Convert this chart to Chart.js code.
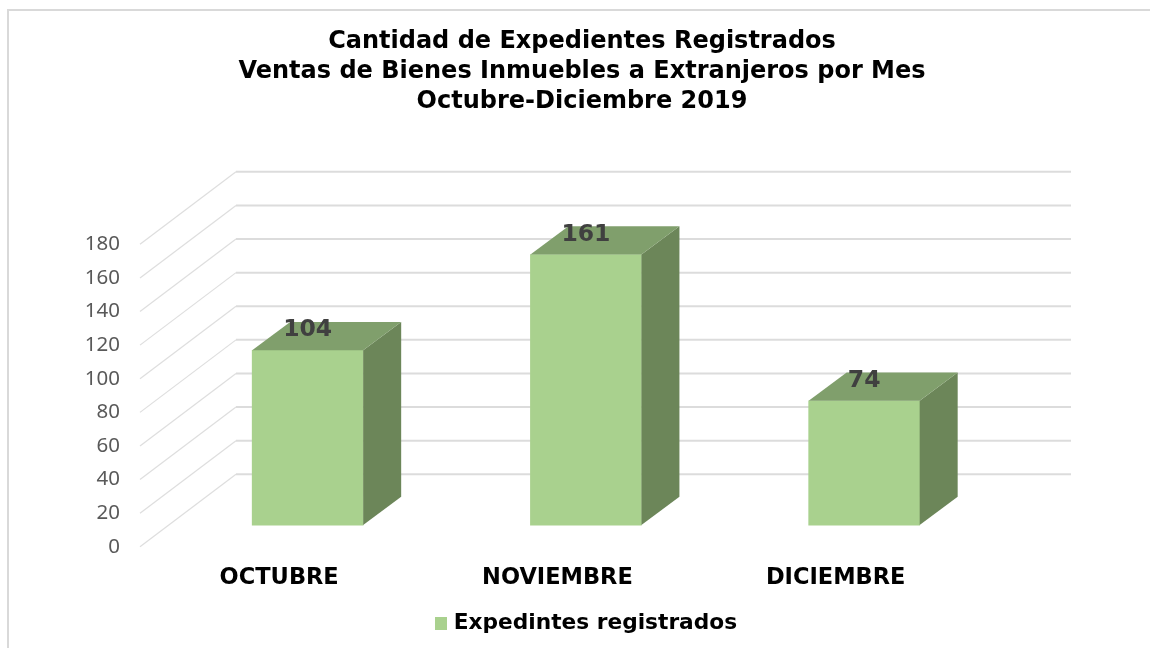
<!DOCTYPE html>
<html lang="es">
<head>
<meta charset="utf-8">
<title>Expedientes</title>
<style>html,body{margin:0;padding:0;background:#fff;overflow:hidden}canvas{display:block}</style>
<script src="https://cdn.jsdelivr.net/npm/chart.js@4/dist/chart.umd.min.js"></script>
</head>
<body>
<canvas id="c" width="1150" height="648"></canvas>
<script>
const titleLines = ["Cantidad de Expedientes Registrados", "Ventas de Bienes Inmuebles a Extranjeros por Mes", "Octubre-Diciembre 2019"];
const categories = ["OCTUBRE", "NOVIEMBRE", "DICIEMBRE"];
const seriesName = "Expedintes registrados";
const expedientes = [104, 161, 74];

const FONT = '"DejaVu Sans", Verdana, sans-serif';
const wall = {dx: 96, dy: 72.5, left: 140, right: 1071};
const depth = {dx: 38, dy: 28.3};

const swatch = document.createElement('canvas');
swatch.width = 12; swatch.height = 13;
const sctx = swatch.getContext('2d');
sctx.fillStyle = '#a9d18e';
sctx.fillRect(0, 0, 12, 13);

const threeD = {
  id: 'threeD',
  beforeDraw(chart) {
    const c = chart.ctx;
    c.save();
    c.fillStyle = '#fff';
    c.fillRect(0, 0, chart.width, chart.height);
    c.strokeStyle = '#d9d9d9';
    c.lineWidth = 2;
    c.beginPath();
    c.moveTo(8, 648); c.lineTo(8, 10); c.lineTo(1150, 10);
    c.stroke();
    c.restore();
  },
  afterLayout(chart) {
    chart.legend.left += 6;
    chart.legend.right += 6;
  },
  beforeDatasetsDraw(chart) {
    const c = chart.ctx, y = chart.scales.y;
    c.save();
    y.ticks.forEach(t => {
      const py = y.getPixelForValue(t.value);
      const bx = wall.left + wall.dx, by = py - wall.dy;
      c.strokeStyle = '#dedede';
      c.lineWidth = 1.2;
      c.beginPath(); c.moveTo(wall.left, py); c.lineTo(bx, by); c.stroke();
      c.strokeStyle = '#dcdcdc';
      c.lineWidth = 2;
      c.beginPath(); c.moveTo(bx, by); c.lineTo(wall.right, by); c.stroke();
    });
    c.restore();
  },
  afterDatasetsDraw(chart) {
    const c = chart.ctx;
    const bars = chart.getDatasetMeta(0).data;
    c.save();
    bars.forEach((b, i) => {
      const l = b.x - b.width / 2, r = b.x + b.width / 2;
      c.fillStyle = '#6c8659';
      c.beginPath();
      c.moveTo(r, b.y); c.lineTo(r + depth.dx, b.y - depth.dy);
      c.lineTo(r + depth.dx, b.base - depth.dy); c.lineTo(r, b.base);
      c.closePath(); c.fill();
      c.fillStyle = '#809f6c';
      c.beginPath();
      c.moveTo(l, b.y); c.lineTo(l + depth.dx, b.y - depth.dy);
      c.lineTo(r + depth.dx, b.y - depth.dy); c.lineTo(r, b.y);
      c.closePath(); c.fill();
      c.fillStyle = '#404040';
      c.font = 'bold 23.5px ' + FONT;
      c.textAlign = 'center';
      c.textBaseline = 'middle';
      c.fillText(String(expedientes[i]), b.x, b.y - 20);
    });
    c.restore();
  }
};

new Chart(document.getElementById('c'), {
  type: 'bar',
  data: {
    labels: categories,
    datasets: [{
      label: seriesName,
      data: expedientes,
      yAxisID: 'yBars',
      backgroundColor: '#a9d18e',
      borderWidth: 0,
      barThickness: 111,
      clip: false
    }]
  },
  plugins: [threeD],
  options: {
    responsive: false,
    animation: false,
    layout: {padding: {left: 14, right: 0, top: 0, bottom: 3.5}},
    plugins: {
      tooltip: {enabled: false},
      title: {
        display: true,
        text: titleLines,
        color: '#000',
        font: {family: FONT, size: 24, weight: 'bold', lineHeight: 1.25},
        padding: {top: 27, bottom: 127.3}
      },
      legend: {
        position: 'bottom',
        labels: {
          color: '#000',
          font: {family: FONT, size: 21.7, weight: 'bold'},
          usePointStyle: true,
          pointStyle: swatch,
          pointStyleWidth: 4,
          boxHeight: 13,
          padding: 9
        }
      }
    },
    scales: {
      x: {
        type: 'category',
        grid: {display: false, drawTicks: false},
        border: {display: false},
        ticks: {
          color: '#000',
          font: {family: FONT, size: 22.5, weight: 'bold'},
          padding: 17.7,
          labelOffset: -28.5,
          maxRotation: 0,
          autoSkip: false
        },
        afterFit(s) { s.height = 57; }
      },
      y: {
        type: 'linear',
        position: 'left',
        min: 0,
        max: 180,
        grid: {display: false, drawTicks: false},
        border: {display: false},
        ticks: {
          stepSize: 20,
          color: '#595959',
          font: {family: '"Noto Sans", sans-serif', size: 20.5},
          padding: 48.5
        },
        afterFit(s) { s.width = 154.55; }
      },
      yBars: {
        type: 'linear',
        position: 'right',
        min: -12.9,
        max: 167.1,
        grid: {display: false, drawTicks: false},
        border: {display: false},
        ticks: {display: false},
        afterFit(s) { s.width = 146.7; }
      }
    }
  }
});
</script>
</body>
</html>
